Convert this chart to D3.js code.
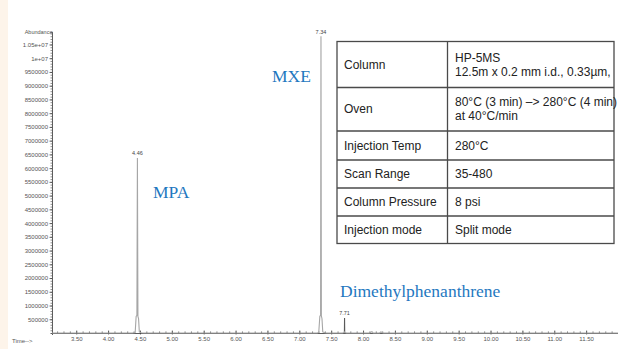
<!DOCTYPE html>
<html>
<head>
<meta charset="utf-8">
<script src="https://cdn.jsdelivr.net/npm/d3@7/dist/d3.min.js"></script>
<style>
  html, body { margin: 0; padding: 0; background: #ffffff; }
  svg { display: block; }
</style>
</head>
<body>
<div id="chart"></div>
<script>
// Total ion chromatogram: retention time (min) vs abundance
const traceTime = [3.12, 4.38, 4.425, 4.44, 4.452, 4.46, 4.468, 4.478, 4.49, 4.52, 4.56,
                   7.28, 7.305, 7.322, 7.334, 7.34, 7.346, 7.356, 7.368, 7.40, 7.44,
                   7.68, 7.700, 7.706, 7.71, 7.714, 7.722, 7.74,
                   8.10, 8.12, 8.14, 8.16, 8.26, 8.28, 8.30, 8.32, 12.0];
const traceAbundance = [0, 0, 20000, 600000, 640000, 6370000, 600000, 520000, 40000, 10000, 0,
                        0, 20000, 600000, 650000, 10800000, 620000, 520000, 40000, 10000, 0,
                        0, 20000, 60000, 546000, 60000, 15000, 0,
                        0, 30000, 50000, 0, 0, 40000, 20000, 0, 0];

// Labelled peaks
const peakTimes = [4.46, 7.34, 7.71];
const peakLabels = ["4.46", "7.34", "7.71"];
const peakHeights = [6370000, 10800000, 546000];

// Compound annotations
const compoundNames = ["MPA", "MXE", "Dimethylphenanthrene"];

// Axis ticks
const xTickValues = [3.5, 4.0, 4.5, 5.0, 5.5, 6.0, 6.5, 7.0, 7.5, 8.0, 8.5, 9.0, 9.5, 10.0, 10.5, 11.0, 11.5];
const yTickValues = [500000, 1000000, 1500000, 2000000, 2500000, 3000000, 3500000, 4000000, 4500000, 5000000,
                     5500000, 6000000, 6500000, 7000000, 7500000, 8000000, 8500000, 9000000, 9500000, 10000000, 10500000];
const yTickLabels = ["500000", "1000000", "1500000", "2000000", "2500000", "3000000", "3500000", "4000000", "4500000", "5000000",
                     "5500000", "6000000", "6500000", "7000000", "7500000", "8000000", "8500000", "9000000", "9500000", "1e+07", "1.05e+07"];

// Method parameters table
const paramNames = ["Column", "Oven", "Injection Temp", "Scan Range", "Column Pressure", "Injection mode"];
const paramValues = [["HP-5MS", "12.5m x 0.2 mm i.d., 0.33µm,"],
                     ["80°C (3 min) –> 280°C (4 min)", "at 40°C/min"],
                     ["280°C"], ["35-480"], ["8 psi"], ["Split mode"]];

const W = 618, H = 349;
const svg = d3.select("#chart").append("svg").attr("width", W).attr("height", H);

// Pale strip on the left edge
svg.append("rect").attr("x", 0).attr("y", 0).attr("width", 8).attr("height", H).attr("fill", "#fdf4ea");

const x = d3.scaleLinear().domain([3.12, 12.0]).range([52, 618]);
const y = d3.scaleLinear().domain([0, 10965000]).range([333, 31.7]);

const axisFont = "Liberation Sans, Arial, sans-serif";

// X axis: minor ticks every 0.1 min, labelled every 0.5 min
const xMinor = d3.range(32, 120).map(v => v / 10);
svg.append("g").attr("transform", `translate(0,${y(0)})`)
  .call(d3.axisBottom(x).tickValues(xMinor).tickSize(2).tickFormat(""))
  .call(g => g.select(".domain").attr("stroke", "#333").attr("stroke-width", 0.8))
  .call(g => g.selectAll(".tick line").attr("stroke", "#333").attr("stroke-width", 0.7).attr("y1", -1.5).attr("y2", 0));
svg.append("g").attr("transform", `translate(0,${y(0)})`)
  .call(d3.axisBottom(x).tickValues(xTickValues).tickSize(2).tickPadding(2).tickFormat(d3.format(".2f")))
  .call(g => g.select(".domain").remove())
  .call(g => g.selectAll(".tick line").attr("stroke", "#333").attr("stroke-width", 0.7).attr("y1", -2.5).attr("y2", 1.5))
  .call(g => g.selectAll(".tick text").attr("font-family", axisFont).attr("font-size", 6).attr("fill", "#555"));

// Y axis: minor ticks every 100000, labelled every 500000
const yMinor = d3.range(1, 110).map(v => v * 100000);
svg.append("g").attr("transform", `translate(${x(3.12)},0)`)
  .call(d3.axisLeft(y).tickValues(yMinor).tickSize(1.5).tickFormat(""))
  .call(g => g.select(".domain").attr("stroke", "#333").attr("stroke-width", 0.8))
  .call(g => g.selectAll(".tick line").attr("stroke", "#444").attr("stroke-width", 0.6));
svg.append("g").attr("transform", `translate(${x(3.12)},0)`)
  .call(d3.axisLeft(y).tickValues(yTickValues).tickSize(2.5).tickPadding(1.5)
        .tickFormat((d, i) => yTickLabels[i]))
  .call(g => g.select(".domain").remove())
  .call(g => g.selectAll(".tick line").attr("stroke", "#333").attr("stroke-width", 0.7))
  .call(g => g.selectAll(".tick text").attr("font-family", axisFont).attr("font-size", 6).attr("fill", "#555"));

svg.append("text").attr("x", x(3.12) + 0.5).attr("y", 34).attr("text-anchor", "end")
  .attr("font-family", axisFont).attr("font-size", 5.5).attr("fill", "#555").text("Abundance");
svg.append("text").attr("x", 12).attr("y", 343)
  .attr("font-family", axisFont).attr("font-size", 6).attr("fill", "#555").text("Time-->");

// Chromatogram trace
const trace = traceTime.map((t, i) => [t, traceAbundance[i]]);
svg.append("path").datum(trace)
  .attr("fill", "none").attr("stroke", "#a6a6a6").attr("stroke-width", 1.1)
  .attr("d", d3.line().x(d => x(d[0])).y(d => y(d[1])));

// Retention time labels above peaks
peakTimes.forEach((t, i) => {
  svg.append("text").attr("x", x(t)).attr("y", y(peakHeights[i]) - 2.5).attr("text-anchor", "middle")
    .attr("font-family", axisFont).attr("font-size", 5.5).attr("fill", "#444").text(peakLabels[i]);
});
// Darker stem on the small 7.71 peak
svg.append("line").attr("x1", x(7.71)).attr("x2", x(7.71))
  .attr("y1", y(peakHeights[2])).attr("y2", y(60000)).attr("stroke", "#555").attr("stroke-width", 1);

// Compound names
const nameX = [153, 272, 340];
const nameY = [198, 82, 297];
compoundNames.forEach((n, i) => {
  svg.append("text").attr("x", nameX[i]).attr("y", nameY[i])
    .attr("font-family", "Liberation Serif, Times New Roman, serif").attr("font-size", 17.5)
    .attr("fill", "#1f78bf").text(n);
});

// Parameter table
const tx0 = 337, tx1 = 447.5, tx2 = 614;
const rowEdges = [41.5, 87.5, 131, 160, 188, 216, 243.5];
const tbl = svg.append("g");
tbl.append("rect").attr("x", tx0).attr("y", rowEdges[0]).attr("width", tx2 - tx0)
  .attr("height", rowEdges[6] - rowEdges[0]).attr("fill", "#fff").attr("stroke", "#4a4a4a").attr("stroke-width", 1.3);
rowEdges.slice(1, 6).forEach(e => {
  tbl.append("line").attr("x1", tx0).attr("x2", tx2).attr("y1", e).attr("y2", e)
    .attr("stroke", "#4a4a4a").attr("stroke-width", 1.3);
});
tbl.append("line").attr("x1", tx1).attr("x2", tx1).attr("y1", rowEdges[0]).attr("y2", rowEdges[6])
  .attr("stroke", "#4a4a4a").attr("stroke-width", 1.3);
paramNames.forEach((n, i) => {
  const mid = (rowEdges[i] + rowEdges[i + 1]) / 2;
  tbl.append("text").attr("x", 344).attr("y", mid + 4)
    .attr("font-family", "Liberation Sans, Arial, sans-serif").attr("font-size", 12).attr("fill", "#222").text(n);
  const vals = paramValues[i];
  vals.forEach((v, j) => {
    const off = vals.length === 1 ? 4 : (j === 0 ? -3 : 11);
    tbl.append("text").attr("x", 455).attr("y", mid + off)
      .attr("font-family", "Liberation Sans, Arial, sans-serif").attr("font-size", 12).attr("fill", "#222").text(v);
  });
});
</script>
</body>
</html>
